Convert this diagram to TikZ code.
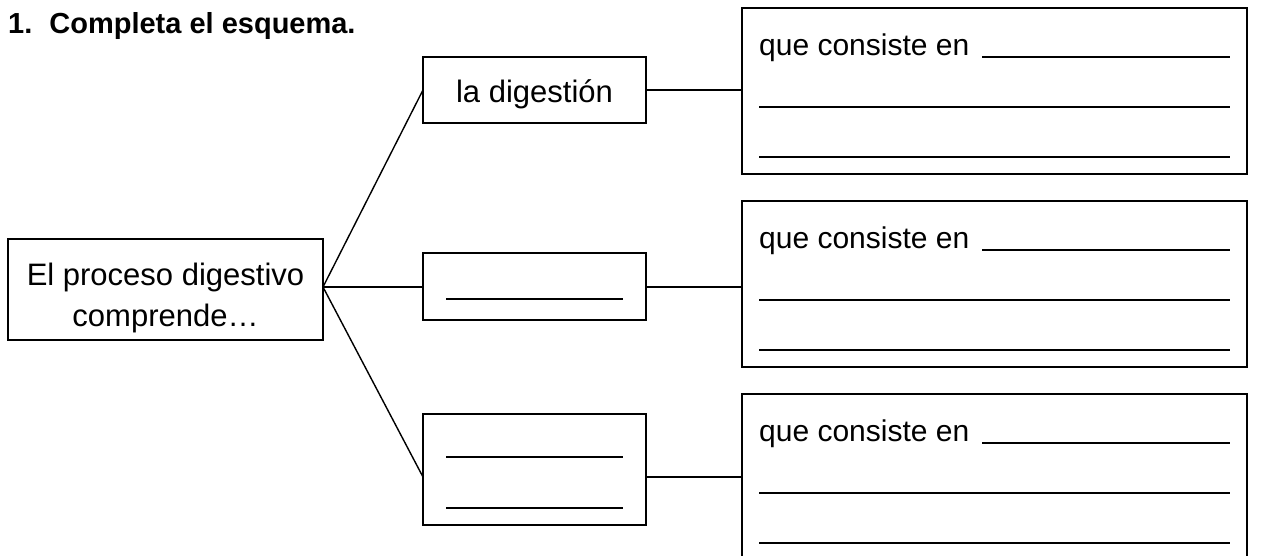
\documentclass[tikz,border=0pt]{standalone}
\usepackage{fontspec}
\setmainfont{Liberation Sans}
\usetikzlibrary{calc}
\begin{document}
\begin{tikzpicture}[x=1pt,y=-1pt,
  box/.style={draw,line width=1.6pt,inner sep=0pt,outer sep=0pt},
  txt/.style={font=\fontsize{31}{41}\selectfont,inner sep=0pt,anchor=base},
  blank/.style={line width=1.6pt},
  link/.style={line width=1.4pt}]
\useasboundingbox (0,0) rectangle (1286,555);
\clip (0,0) rectangle (1286,555);
% title
\node[anchor=base west,inner sep=0pt,font=\fontsize{29}{35}\selectfont\bfseries] (title) at (8,33) {1.\hspace{17pt}Completa el esquema.};
% boxes
\node[box,minimum width=315pt,minimum height=101pt] (lb) at (165.5,289.5) {};
\node[box,minimum width=223pt,minimum height=66pt] (m1) at (534.5,90) {};
\node[box,minimum width=223pt,minimum height=67pt] (m2) at (534.5,286.5) {};
\node[box,minimum width=223pt,minimum height=111pt] (m3) at (534.5,469.5) {};
\node[box,minimum width=505pt,minimum height=166pt] (r1) at (994.5,91) {};
\node[box,minimum width=505pt,minimum height=166pt] (r2) at (994.5,284) {};
\node[box,minimum width=505pt,minimum height=166pt] (r3) at (994.5,477) {};
% texts
\node[txt] (t0a) at (165.5,285) {El proceso digestivo};
\node[txt] (t0b) at (165.5,326) {comprende…};
\node[txt] (t1) at (534.5,102) {la digestión};
% blanks in middle boxes
\draw[blank] (446,299) -- (623,299);
\draw[blank] (446,457) -- (623,457);
\draw[blank] (446,508) -- (623,508);
% right boxes contents
\foreach \b/\t in {r1/8, r2/201, r3/394}{
  \node[txt,font=\fontsize{30}{36}\selectfont,anchor=base west] (q\b) at (759,\t+47) {que consiste en};
  \draw[blank] (982,\t+49) -- (1230,\t+49);
  \draw[blank] (759,\t+99) -- (1230,\t+99);
  \draw[blank] (759,\t+149) -- (1230,\t+149);
}
% connectors
\coordinate (j) at (323,287);
\draw[link] (j) -- (m1.west);
\draw[link] (j) -- (j -| m2.west);
\draw[link] (j) -- (m3.west |- r3.west);
\draw[link] (m1.east) -- (m1.east -| r1.west);
\draw[link] (j -| m2.east) -- (j -| r2.west);
\draw[link] (m3.east |- r3.west) -- (r3.west);
\end{tikzpicture}
\end{document}
